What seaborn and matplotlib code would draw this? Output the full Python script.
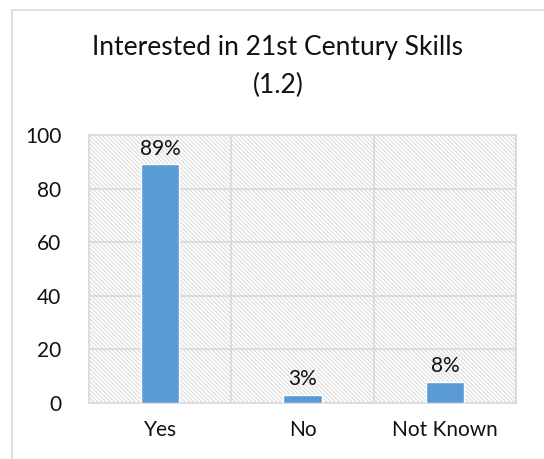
import matplotlib
matplotlib.use("Agg")
import matplotlib.pyplot as plt
import seaborn as sns
import pandas as pd
from matplotlib.patches import Rectangle

categories = ["Yes", "No", "Not Known"]
values = [89, 3, 8]
labels = ["89%", "3%", "8%"]
yticks = [0, 20, 40, 60, 80, 100]

sns.set_theme(style="white")
plt.rcParams["font.family"] = ["Lato", "DejaVu Sans"]
plt.rcParams["hatch.color"] = "#dcdcdc"
plt.rcParams["hatch.linewidth"] = 0.8

fig = plt.figure(figsize=(5.44, 4.59), dpi=100)
# outer chart border
fig.patches.append(Rectangle((12/544, -0.1), 1.2, 1 - 10/459 + 0.1, transform=fig.transFigure,
                             fill=False, edgecolor="#d9d9d9", linewidth=1.2, zorder=0))
ax = fig.add_axes([89/544, 1 - 403/459, (516 - 89)/544, (403 - 135)/459])

df = pd.DataFrame({"cat": categories, "val": values})
ax.add_patch(Rectangle((0, 0), 1, 1, transform=ax.transAxes, facecolor="white",
                       edgecolor="#dcdcdc", linewidth=0, hatch="\\" * 8, zorder=0))
sns.barplot(data=df, x="cat", y="val", color="#5B9BD5", saturation=1, width=0.27, ax=ax, zorder=3)
ax.set_ylim(0, 100)
ax.set_xlim(-0.5, 2.5)
ax.set_yticks(yticks)
ax.set_yticklabels([str(t) for t in yticks])
ax.set_xlabel("")
ax.set_ylabel("")
ax.grid(True, axis="both", color="#d9d9d9", linewidth=1.2, zorder=1)
ax.set_xticks([-0.5, 0.5, 1.5, 2.5], minor=True)
ax.xaxis.grid(False, which="major")
ax.xaxis.grid(True, which="minor", color="#d9d9d9", linewidth=1.2)
ax.set_axisbelow(True)
ax.tick_params(axis="both", which="both", length=0, labelsize=15, colors="#111111")
ax.tick_params(axis="x", pad=12)
ax.tick_params(axis="y", pad=20)
for s in ax.spines.values():
    s.set_color("#d9d9d9")
    s.set_linewidth(1.2)
ax.bar_label(ax.containers[0], labels=labels, fontsize=15, padding=4, color="#111111")

fig.text(278/544, 1 - 48/459, "Interested in 21st Century Skills", ha="center", va="center",
         fontsize=19, color="#111111")
fig.text(278/544, 1 - 85/459, "(1.2)", ha="center", va="center", fontsize=19, color="#111111")

fig.savefig("out.png", dpi=100)
